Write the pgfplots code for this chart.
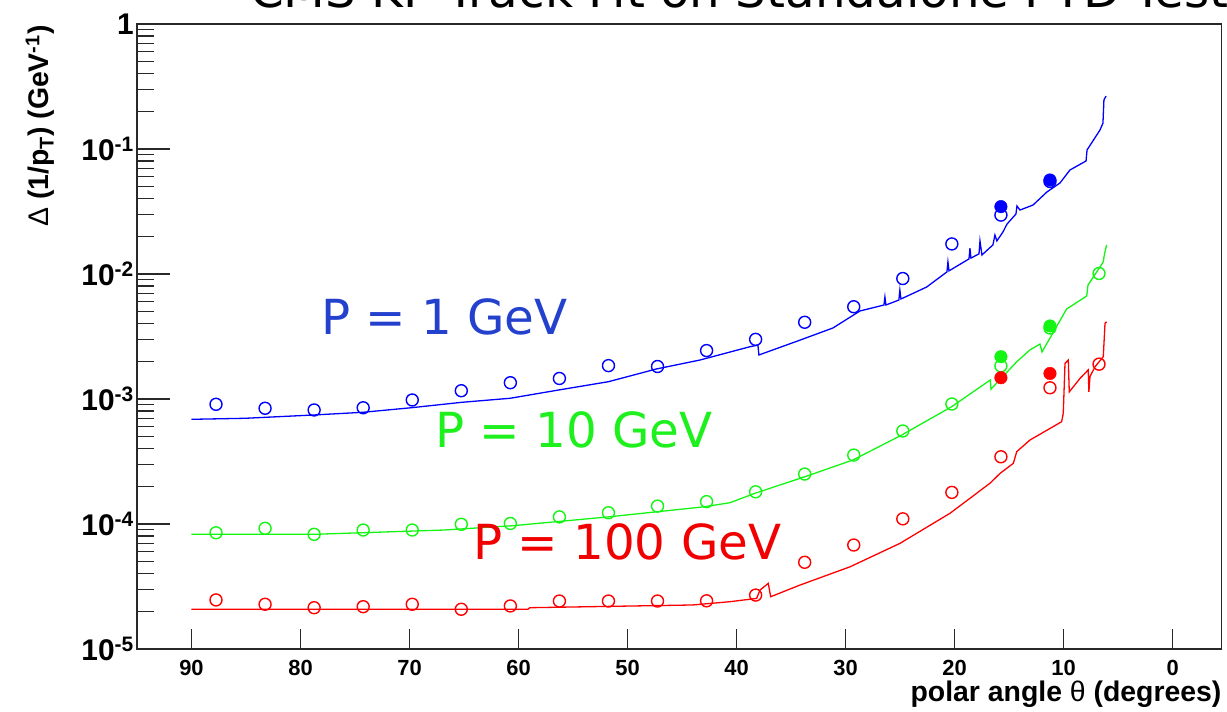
\documentclass[border=0pt]{standalone}
\usepackage{pgfplots}
\pgfplotsset{compat=1.18}
\usepackage{fontspec}
\setmainfont{Liberation Sans}
\newfontfamily\dejavu{DejaVu Sans}

\definecolor{pblue}{RGB}{0,0,255}
\definecolor{pgreen}{RGB}{20,245,20}
\definecolor{pred}{RGB}{255,0,0}
\definecolor{tblue}{RGB}{35,65,205}
\definecolor{tgreen}{RGB}{30,240,30}
\definecolor{tred}{RGB}{240,0,0}
\definecolor{frame}{RGB}{40,40,40}

\begin{document}
\begin{tikzpicture}[x=1bp,y=1bp]
\begin{axis}[
  at={(137bp,63bp)}, anchor=south west,
  scale only axis, width=1084.7bp, height=625bp,
  x dir=reverse, xmin=-4.5, xmax=95,
  ymode=log, ymin=1e-5, ymax=1,
  clip=false,
  axis line style={line width=1.4bp, frame},
  tick align=inside, xtick pos=bottom, ytick pos=left,
  every tick/.style={frame, line width=1.3bp},
  xtick style={/pgfplots/major tick length=20bp},
  ytick style={/pgfplots/major tick length=33bp},
  minor tick length=17bp,
  xtick={0,10,20,30,40,50,60,70,80,90},
  xticklabels={0,10,20,30,40,50,60,70,80,90},
  xticklabel style={font=\bfseries\fontsize{22}{22}\selectfont, inner sep=0pt, anchor=north, yshift=-11bp},
  ytick={1e-5,1e-4,1e-3,1e-2,1e-1,1},
  yticklabels={10\textsuperscript{-5},10\textsuperscript{-4},10\textsuperscript{-3},10\textsuperscript{-2},10\textsuperscript{-1},1},
  yticklabel style={font=\bfseries\fontsize{30}{30}\selectfont, inner sep=0pt, anchor=east, xshift=-3bp},
]

% track-fit resolution curves
\addplot[pblue, line width=1.3bp] coordinates {
(90.00,6.88e-4) (85.10,7.01e-4) (78.80,7.45e-4) (74.28,7.83e-4) (69.81,8.52e-4)
(65.21,9.41e-4) (60.79,1.013e-3) (56.33,1.18e-3) (51.76,1.375e-3) (47.34,1.74e-3)
(43.36,2.05e-3) (38.77,2.62e-3) (38.04,2.70e-3) (37.95,2.25e-3) (34.17,2.96e-3)
(31.16,3.70e-3) (28.68,5.06e-3) (26.48,5.65e-3) (26.39,6.55e-3) (26.30,5.65e-3)
(25.11,6.19e-3) (25.02,7.45e-3) (24.92,6.31e-3) (22.56,7.87e-3) (20.70,1.04e-2)
(20.61,1.25e-2) (20.51,1.06e-2) (18.68,1.32e-2) (18.59,1.61e-2) (18.50,1.34e-2)
(17.76,1.45e-2) (17.67,1.84e-2) (17.49,1.42e-2) (16.48,1.71e-2) (16.30,2.05e-2)
(16.12,1.84e-2) (15.56,2.17e-2) (15.19,2.51e-2) (14.37,3.02e-2) (14.28,3.50e-2)
(14.00,3.25e-2) (12.81,3.56e-2) (11.53,4.53e-2) (10.33,5.35e-2) (9.42,6.79e-2)
(7.94,8.02e-2) (7.85,9.82e-2) (6.66,0.142) (6.39,0.161) (6.30,0.247) (6.11,0.265)
};
\addplot[pgreen, line width=1.3bp] coordinates {
(90.00,8.27e-5) (78.80,8.27e-5) (66.86,8.95e-5) (60.54,9.69e-5) (51.76,1.14e-4)
(43.08,1.37e-4) (40.61,1.48e-4) (38.32,1.76e-4) (33.73,2.39e-4) (29.33,3.25e-4)
(24.85,5.15e-4) (20.27,8.68e-4) (16.72,1.42e-3) (16.66,1.20e-3) (14.31,1.98e-3)
(13.09,2.47e-3) (12.17,2.75e-3) (11.98,2.38e-3) (9.72,5.25e-3) (7.88,6.67e-3)
(7.76,8.17e-3) (6.96,1.04e-2) (6.36,1.25e-2) (6.25,1.45e-2) (6.05,1.71e-2)
};
\addplot[pred, line width=1.3bp] coordinates {
(90.00,2.08e-5) (59.14,2.08e-5) (58.96,2.14e-5) (44.04,2.25e-5) (40.61,2.39e-5)
(38.16,2.54e-5) (37.85,2.96e-5) (37.09,3.35e-5) (36.87,2.62e-5) (34.17,3.25e-5)
(29.58,4.55e-5) (25.00,7.01e-5) (20.41,1.22e-4) (16.75,2.12e-4) (15.83,2.54e-4)
(14.61,3.06e-4) (14.30,3.79e-4) (13.08,4.70e-4) (10.18,6.58e-4) (10.03,7.69e-4)
(9.87,1.93e-3) (9.57,2.05e-3) (9.48,1.14e-3) (8.50,1.46e-3) (7.74,1.71e-3)
(7.68,1.14e-3) (7.58,1.51e-3) (7.12,1.81e-3) (6.36,2.18e-3) (6.20,4.03e-3) (6.05,4.15e-3)
};

% measured points (open) and reference points (filled)
\addplot[only marks, mark=o, pblue, mark size=6bp, mark options={line width=1.4bp}] coordinates {
(87.75,9.07e-4) (83.25,8.43e-4) (78.75,8.17e-4) (74.25,8.51e-4) (69.75,9.82e-4)
(65.25,1.165e-3) (60.75,1.35e-3) (56.25,1.46e-3) (51.75,1.85e-3) (47.25,1.82e-3)
(42.75,2.44e-3) (38.25,3.0e-3) (33.75,4.11e-3) (29.25,5.47e-3) (24.75,9.2e-3)
(20.25,1.74e-2) (15.75,2.96e-2) (11.25,5.5e-2)
};
\addplot[only marks, mark=o, pgreen, mark size=6bp, mark options={line width=1.4bp}] coordinates {
(87.75,8.51e-5) (83.25,9.24e-5) (78.75,8.27e-5) (74.25,8.95e-5) (69.75,8.95e-5)
(65.25,9.95e-5) (60.75,1.01e-4) (56.25,1.14e-4) (51.75,1.23e-4) (47.25,1.39e-4)
(42.75,1.51e-4) (38.25,1.81e-4) (33.75,2.51e-4) (29.25,3.56e-4) (24.75,5.55e-4)
(20.25,9.12e-4) (15.75,1.84e-3) (11.25,3.70e-3) (6.75,1.01e-2)
};
\addplot[only marks, mark=o, pred, mark size=6bp, mark options={line width=1.4bp}] coordinates {
(87.75,2.47e-5) (83.25,2.28e-5) (78.75,2.14e-5) (74.25,2.18e-5) (69.75,2.28e-5)
(65.25,2.08e-5) (60.75,2.21e-5) (56.25,2.42e-5) (51.75,2.42e-5) (47.25,2.42e-5)
(42.75,2.43e-5) (38.25,2.70e-5) (33.75,4.94e-5) (29.25,6.79e-5) (24.75,1.10e-4)
(20.25,1.79e-4) (15.75,3.45e-4) (11.25,1.23e-3) (6.75,1.90e-3)
};
\addplot[only marks, mark=*, pblue, mark size=6.3bp] coordinates {(15.75,3.46e-2) (11.25,5.65e-2)};
\addplot[only marks, mark=*, pgreen, mark size=6.3bp] coordinates {(15.75,2.18e-3) (11.25,3.84e-3)};
\addplot[only marks, mark=*, pred, mark size=6.3bp] coordinates {(15.75,1.48e-3) (11.25,1.60e-3)};

% momentum labels
\node[anchor=base west, inner sep=0pt, text=tblue, font=\dejavu\fontsize{48.5}{48.5}\selectfont] at (axis cs:78.13,3.31e-3) {P = 1 GeV};
\node[anchor=base west, inner sep=0pt, text=tgreen, font=\dejavu\fontsize{48.5}{48.5}\selectfont] at (axis cs:67.67,4.08e-4) {P = 10 GeV};
\node[anchor=base west, inner sep=0pt, text=tred, font=\dejavu\fontsize{48.5}{48.5}\selectfont] at (axis cs:64.18,5.22e-5) {P = 100 GeV};

% axis titles and plot title
\node[rotate=90, anchor=east, inner sep=0pt, font=\bfseries\fontsize{28.5}{28.5}\selectfont] at (axis description cs:-0.0894,0.998) {{\mdseries Δ} (1/p\textsubscript{T}) (GeV\textsuperscript{-1})};
\node[anchor=base east, inner sep=0pt, font=\bfseries\fontsize{28.5}{28.5}\selectfont] at (axis description cs:1,-0.0832) {polar angle {\mdseries θ} (degrees)};
\node[anchor=base west, inner sep=0pt, font=\dejavu\fontsize{48.5}{48.5}\selectfont] at (axis description cs:0.1042,1.027) {CMS KF Track Fit on Standalone PTD-Test};
\end{axis}
\pgfresetboundingbox
\path[use as bounding box] (0,0) rectangle (1227bp,712bp);
\end{tikzpicture}
\end{document}
